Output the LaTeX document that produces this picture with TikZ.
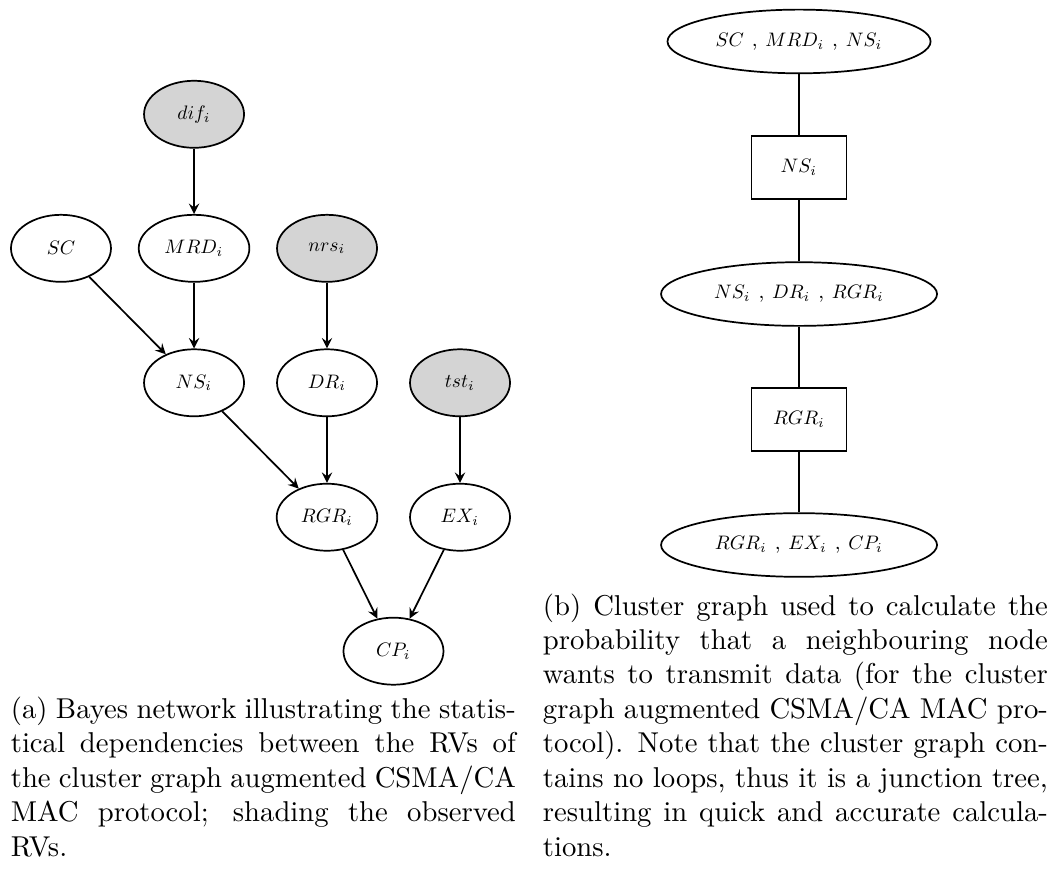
\documentclass[tikz,border=0pt]{standalone}
\usepackage{amssymb,amsmath}
\usepackage{tikz}
\usepackage{xcolor}
\usetikzlibrary{shapes.geometric}

% small node labels keep the shapes of the larger designs
\DeclareFontShape{OML}{cmm}{m}{it}{<-5.5>cmmi7 <5.5->cmmi10}{}
\DeclareFontShape{OT1}{cmr}{m}{n}{<-5.5>cmr7 <5.5->cmr10}{}
\newcommand{\nodefont}{\fontsize{6.8}{8.2}\selectfont}

\definecolor{obsgray}{gray}{0.83}

\begin{document}
\begin{tikzpicture}[
    >= stealth, % arrow head style
    auto,
    semithick % line style
  ]

  \tikzstyle{rv}=[
      shape = ellipse,
      draw = black,
      fill = white,
      minimum width = 1.225cm,
      minimum height = 0.821cm,
      font = \nodefont
  ]
  \tikzstyle{observed}=[rv, fill = obsgray]
  \tikzstyle{clique}=[
      shape = ellipse,
      draw = black,
      minimum height = 0.78cm,
      font = \nodefont
  ]
  \tikzstyle{sepset}=[
      shape = rectangle,
      draw = black,
      minimum width = 1.164cm,
      minimum height = 0.772cm,
      font = \nodefont
  ]
  \tikzstyle{subcap}=[text width = 6.186cm, align = justify, inner sep = 0pt, anchor = north west]

\useasboundingbox (0,0) rectangle (12.96,-10.72);

% (a) Bayes network
\node[observed] (dif) at (2.377,-1.400) {$dif_i$};
\node[rv] (SC) at (0.747,-3.042) {$SC$};
\node[rv] (MRD) at (2.377,-3.042) {$MRD_i$};
\node[observed] (nrs) at (4.006,-3.042) {$nrs_i$};
\node[rv] (NS) at (2.377,-4.689) {$NS_i$};
\node[rv] (DR) at (4.006,-4.689) {$DR_i$};
\node[observed] (tst) at (5.635,-4.689) {$tst_i$};
\node[rv] (RGR) at (4.006,-6.336) {$RGR_i$};
\node[rv] (EX) at (5.635,-6.336) {$EX_i$};
\node[rv] (CP) at (4.820,-7.977) {$CP_i$};

\path [->] (dif) edge (MRD);
\path [->] (SC) edge (NS);
\path [->] (MRD) edge (NS);
\path [->] (nrs) edge (DR);
\path [->] (NS) edge (RGR);
\path [->] (DR) edge (RGR);
\path [->] (tst) edge (EX);
\path [->] (RGR) edge (CP);
\path [->] (EX) edge (CP);

% (b) cluster graph
\node[clique, minimum width = 3.10cm] (C1) at (9.788,-0.508) {$SC$ , $MRD_i$ , $NS_i$};
\node[sepset] (S1) at (9.788,-2.054) {$NS_i$};
\node[clique, minimum width = 3.381cm] (C2) at (9.788,-3.602) {$NS_i$ , $DR_i$ , $RGR_i$};
\node[sepset] (S2) at (9.788,-5.139) {$RGR_i$};
\node[clique, minimum width = 3.381cm] (C3) at (9.788,-6.676) {$RGR_i$ , $EX_i$ , $CP_i$};

\path (C1) edge (S1);
\path (S1) edge (C2);
\path (C2) edge (S2);
\path (S2) edge (C3);

% captions
\node[subcap] (capa) at (0.1225,-8.525) {(a) Bayes network illustrating the statis-\linebreak tical dependencies between the RVs of\linebreak the cluster graph augmented CSMA/CA\linebreak MAC protocol; shading the observed\linebreak RVs.};
\node[subcap] (capb) at (6.640,-7.261) {(b) Cluster graph used to calculate the\linebreak probability that a neighbouring node\linebreak wants to transmit data (for the cluster\linebreak graph augmented CSMA/CA MAC pro-\linebreak tocol). Note that the cluster graph con-\linebreak tains no loops, thus it is a junction tree,\linebreak resulting in quick and accurate calcula-\linebreak tions.};
\end{tikzpicture}
\end{document}
